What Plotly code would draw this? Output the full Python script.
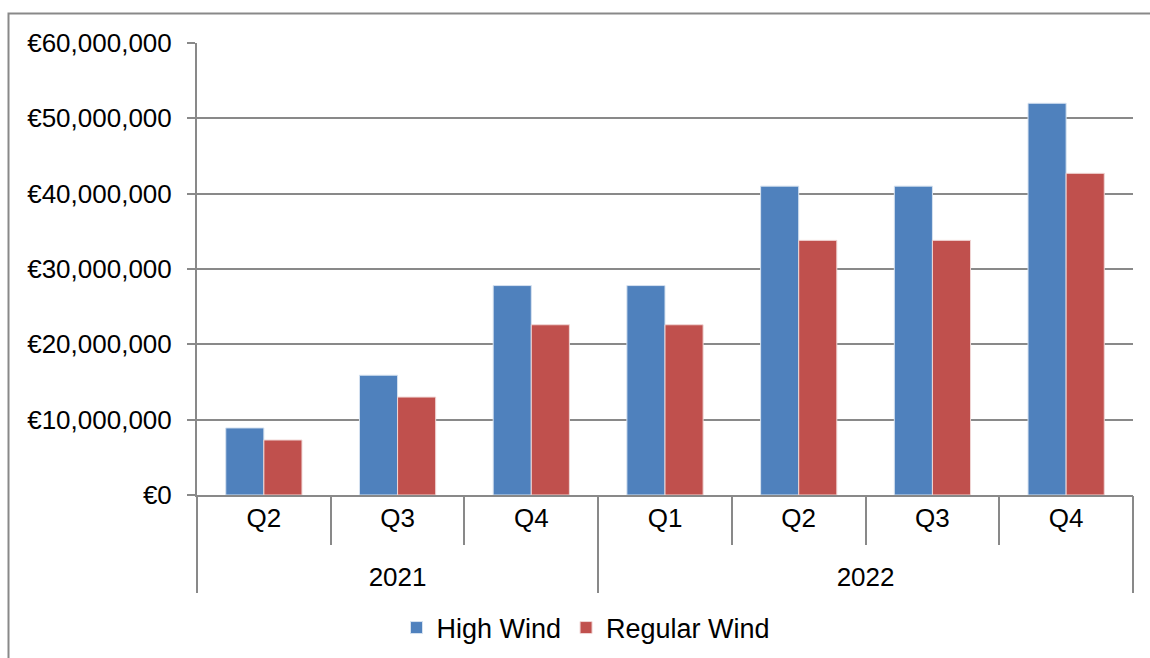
import plotly.graph_objects as go

years = ["2021", "2021", "2021", "2022", "2022", "2022", "2022"]
quarters = ["Q2", "Q3", "Q4", "Q1", "Q2", "Q3", "Q4"]
high_wind = [8900000, 15900000, 27800000, 27800000, 41000000, 41000000, 52000000]
regular_wind = [7300000, 13000000, 22600000, 22600000, 33800000, 33800000, 42700000]

FONT = "Liberation Sans, Arial, sans-serif"
GRID = "#898989"

cats = [f"{y} {q}" for y, q in zip(years, quarters)]
n = len(cats)
uniq_years = list(dict.fromkeys(years))
year_idx = {y: [i for i, yy in enumerate(years) if yy == y] for y in uniq_years}
year_centers = [sum(v) / len(v) for v in year_idx.values()]
year_bounds = [-0.5] + [max(v) + 0.5 for v in year_idx.values()]

fig = go.Figure()
fig.add_trace(go.Bar(x=cats, y=high_wind, name="High Wind",
                     marker=dict(color="#4F81BD", line=dict(color="#d6e2f0", width=1))))
fig.add_trace(go.Bar(x=cats, y=regular_wind, name="Regular Wind",
                     marker=dict(color="#C0504D", line=dict(color="#f0d6d5", width=1))))
fig.add_trace(go.Scatter(x=year_centers, y=[None] * len(year_centers), xaxis="x2",
                         showlegend=False, hoverinfo="skip", mode="markers"))

L, R, T, B = 197, 17, 43, 163
W, H = 1150, 658
pw, ph = W - L - R, H - T - B

fig.update_layout(
    width=W, height=H,
    margin=dict(l=L, r=R, t=T, b=B, autoexpand=False),
    paper_bgcolor="white", plot_bgcolor="white",
    font=dict(family=FONT, size=26, color="black"),
    barmode="group", bargap=0.43, bargroupgap=0,
    showlegend=True,
    legend=dict(orientation="h", x=(586 - L) / pw, xanchor="center",
                y=(495 - 628) / ph, yanchor="middle",
                font=dict(size=27), traceorder="normal", itemwidth=30,
                bgcolor="rgba(0,0,0,0)"),
    xaxis=dict(type="category", categoryorder="array", categoryarray=cats,
               tickmode="array", tickvals=cats, ticktext=quarters,
               range=[-0.5, n - 0.5], automargin=False,
               showgrid=False, showline=True, linecolor=GRID, linewidth=2,
               ticks="outside", tickson="boundaries", ticklen=48,
               tickcolor=GRID, tickwidth=2, ticklabelstandoff=-1,
               tickfont=dict(size=26)),
    xaxis2=dict(type="linear", overlaying="x", anchor="y", side="bottom",
                range=[-0.5, n - 0.5], tickmode="array", automargin=False,
                tickvals=year_centers, ticktext=uniq_years,
                ticks="", showgrid=False, showline=False, zeroline=False,
                ticklabelstandoff=64, tickfont=dict(size=26),
                minor=dict(tickmode="array", tickvals=year_bounds, ticks="outside",
                           ticklen=97, tickcolor=GRID, tickwidth=2, showgrid=False)),
    yaxis=dict(range=[0, 60000000], dtick=10000000, tickprefix="€",
               tickformat=",.0f", showgrid=True, gridcolor=GRID, gridwidth=2,
               showline=True, linecolor=GRID, linewidth=2, automargin=False,
               ticks="outside", ticklen=8, tickcolor=GRID, tickwidth=2,
               ticklabelstandoff=10,
               zeroline=False, tickfont=dict(size=26)),
)

# outer chart border (left and top visible)
fig.add_shape(type="rect", xref="paper", yref="paper",
              x0=(8.5 - L) / pw, x1=(1160 - L) / pw,
              y0=(H - B - 680) / ph, y1=(H - B - 13.5) / ph,
              line=dict(color=GRID, width=2), fillcolor="rgba(0,0,0,0)", layer="below")

fig.write_html("out.html")
